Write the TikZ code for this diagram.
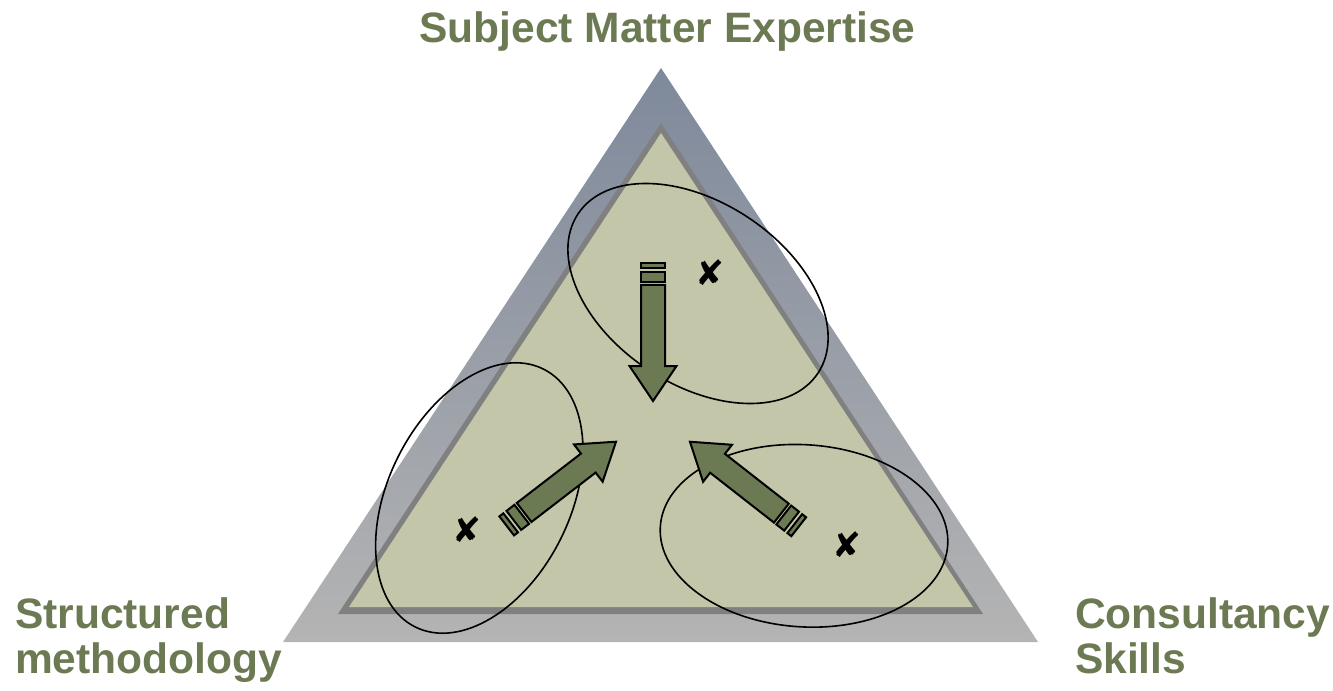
\documentclass[tikz,border=0pt]{standalone}
\usepackage{fontspec}
\setmainfont{Liberation Sans}
\newfontfamily\symfont{DejaVu Sans}
\definecolor{labelgreen}{RGB}{107,122,82}
\definecolor{arrowgreen}{RGB}{107,122,82}
\definecolor{innerfill}{RGB}{195,198,168}
\definecolor{innerborder}{RGB}{128,128,128}
\definecolor{outertop}{RGB}{126,137,155}
\definecolor{outerbottom}{RGB}{180,180,180}
\tikzset{
  labeltext/.style={font=\fontsize{31.9}{33.75}\selectfont\bfseries, text=labelgreen, inner sep=0pt, outer sep=0pt},
  xmark/.style={font=\symfont\fontsize{26}{26}\selectfont, inner sep=0pt},
  zone/.style={draw=black, line width=1.2pt},
  arrowpart/.style={draw=black, line width=1.5pt, fill=arrowgreen, line join=miter},
  bigarrow/.pic={
    \path[arrowpart] (0,-12) rectangle (5,12);
    \path[arrowpart] (9,-12) rectangle (19,12);
    \path[arrowpart] (22,-12) -- (103,-12) -- (103,-23.5) -- (138,0) -- (103,23.5) -- (103,12) -- (22,12) -- cycle;
  }
}
\begin{document}
\begin{tikzpicture}[x=0.75pt,y=-0.75pt]
\useasboundingbox (0,0) rectangle (1333,691);
% outer triangle
\shade[top color=outertop, bottom color=outerbottom] (661,68) -- (1038,642) -- (283,642) -- cycle;
% inner triangle
\fill[innerborder] (661,123) -- (983,614) -- (338,614) -- cycle;
\fill[innerfill] (661,133) -- (973,607) -- (349,607) -- cycle;
% zones
\draw[zone, shift={(698,293.5)}, rotate=-33.6] (0,0) ellipse [x radius=108pt, y radius=68.3pt];
\draw[zone, shift={(479.3,498)}, rotate=63.6] (0,0) ellipse [x radius=108pt, y radius=68.3pt];
\draw[zone, shift={(804,535.8)}, rotate=-3.7] (0,0) ellipse [x radius=108pt, y radius=68.3pt];
% x marks
\node[xmark] (xt) at (710,273) {✘};
\node[xmark] (xl) at (467,530) {✘};
\node[xmark] (xr) at (847,545) {✘};
% arrows
\pic[rotate=-90] at (653,263) {bigarrow};
\pic[rotate=37.6] at (506.7,525.9) {bigarrow};
\pic[rotate=142] at (798.7,526.7) {bigarrow};
% labels
\node[labeltext, anchor=base] (sme) at (667.5,43) {Subject Matter Expertise};
\node[labeltext, anchor=base west, align=left] (sm) at (15,673) {Structured\\methodology};
\node[labeltext, anchor=base west, align=left] (cs) at (1075,673) {Consultancy\\Skills};
\end{tikzpicture}
\end{document}
